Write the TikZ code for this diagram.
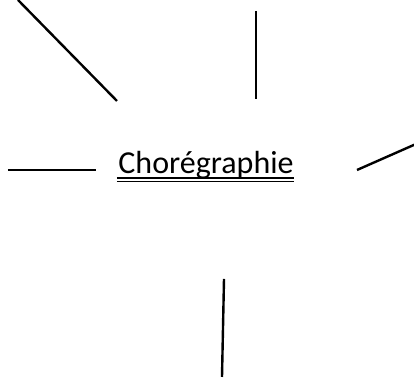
\documentclass[tikz,border=0pt]{standalone}
\usepackage{fontspec}
\setmainfont{Carlito}
\usepackage{tikz}
\usetikzlibrary{calc}

\begin{document}
\begin{tikzpicture}[x=0.5pt, y=-0.5pt, line cap=round, line join=round]
\useasboundingbox (0,0) rectangle (414,383);

% titre souligne (double)
\node[inner sep=0pt, anchor=base west, font=\fontsize{16}{18}\selectfont] (titre) at (118,174) {Chorégraphie};
\draw[line width=0.8pt, line cap=butt] ($(titre.base west)+(-1,3.8)$) -- ($(titre.base east)+(0,3.8)$);
\draw[line width=0.8pt, line cap=butt] ($(titre.base west)+(-1,7.6)$) -- ($(titre.base east)+(0,7.6)$);

% extremites des traits
\coordinate (a1) at (18,0);    \coordinate (a2) at (117,101);
\coordinate (b1) at (256,11);  \coordinate (b2) at (256,99);
\coordinate (c1) at (8,170);   \coordinate (c2) at (96,170);
\coordinate (d1) at (357,170); \coordinate (d2) at (416,144);
\coordinate (e1) at (224,279); \coordinate (e2) at (222,377);

% traits
\draw[line width=1.2pt, line cap=butt] (a1) -- (a2);
\draw[line width=1.2pt, line cap=butt] (b1) -- (b2);
\draw[line width=1.2pt, line cap=butt] (c1) -- (c2);
\draw[line width=1.2pt, line cap=butt] (d1) -- (d2);
\draw[line width=1.2pt, line cap=butt] (e1) -- (e2);
\end{tikzpicture}
\end{document}
